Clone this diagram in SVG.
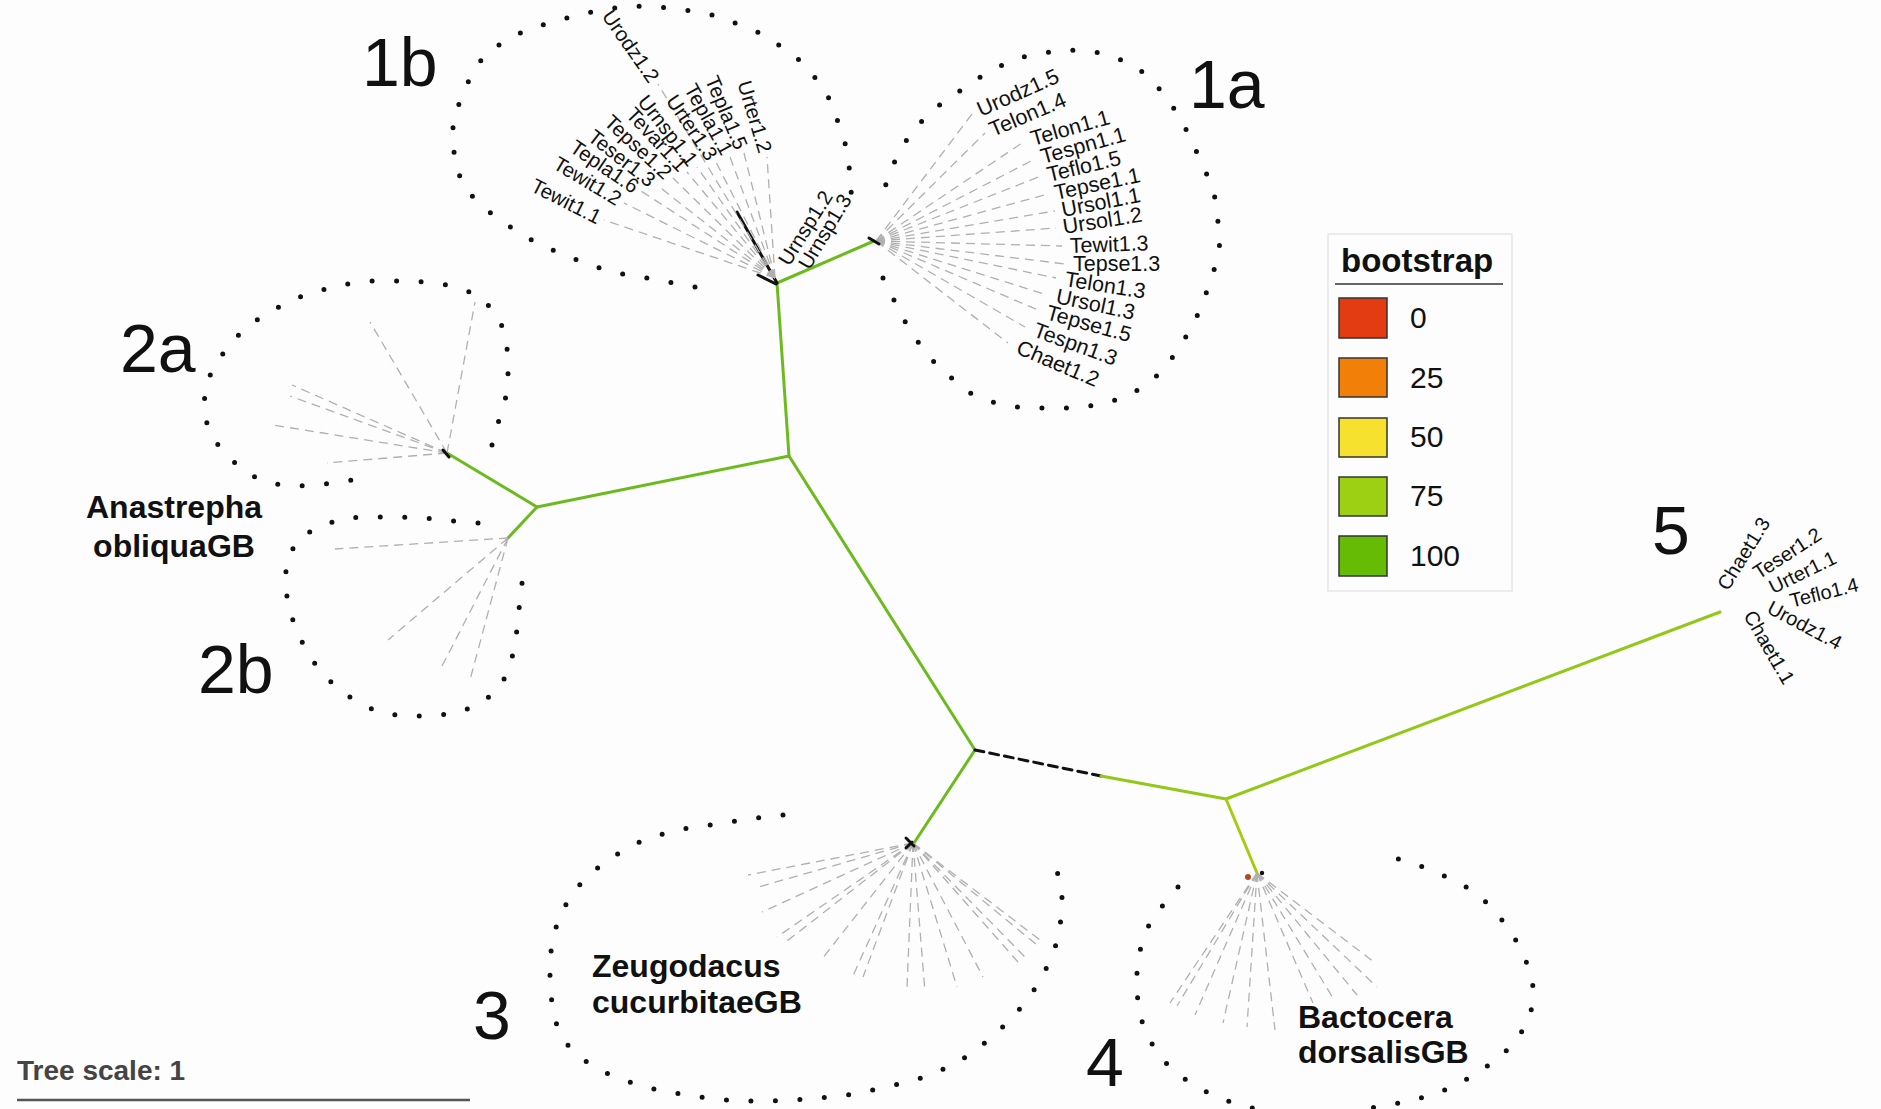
<svg xmlns="http://www.w3.org/2000/svg" width="1881" height="1109" viewBox="0 0 1881 1109">
<defs>
<style>
.bg{fill:#fdfdfd}
.dots{fill:none;stroke:#111;stroke-width:5;stroke-linecap:round;stroke-linejoin:round;stroke-dasharray:0 24.5}
.leaf{fill:none;stroke:#b0b0b0;stroke-width:1.3;stroke-dasharray:9 6}
.br{fill:none;stroke-width:3;stroke-linecap:round}
.b100{stroke:#6cba1e}
.b75{stroke:#93c718}
.b75y{stroke:#a6cc12}
.unk{stroke:#111}
.txt{font-family:"Liberation Sans",Arial,sans-serif;fill:#111}
.l1a{font-size:21.5px}
.l1b{font-size:20.5px;dominant-baseline:central}
.l5{font-size:20px;dominant-baseline:central}
.big{font-size:68px}
.sp{font-family:"Liberation Sans",Arial,sans-serif;font-weight:bold;font-size:32px;fill:#111}
.sw{stroke:#333;stroke-width:1.5}
.lg{font-family:"Liberation Sans",Arial,sans-serif;font-size:30px;fill:#111}
</style>
</defs>
<rect class="bg" x="0" y="0" width="1881" height="1109"/>

<!-- tree branches, coloured by bootstrap support -->
<g id="connectors">
  <line class="br b100" x1="777" y1="283" x2="874" y2="241"/>
  <line class="br b100" x1="777" y1="283" x2="789" y2="456"/>
  <line class="br b100" x1="789" y1="456" x2="537" y2="507"/>
  <line class="br b100" x1="537" y1="507" x2="447" y2="453"/>
  <line class="br b100" x1="537" y1="507" x2="508" y2="538"/>
  <line class="br b100" x1="789" y1="456" x2="975" y2="750"/>
  <line class="br b100" x1="975" y1="750" x2="914" y2="843"/>
  <line class="br unk" x1="975" y1="750" x2="1101" y2="776" stroke-dasharray="9 6" stroke-linecap="butt"/>
  <line class="br b75" x1="1101" y1="776" x2="1226" y2="799"/>
  <line class="br b75" x1="1226" y1="799" x2="1720" y2="612"/>
  <line class="br b75y" x1="1226" y1="799" x2="1257" y2="873"/>
  <line class="br unk" x1="777" y1="283" x2="737" y2="212" stroke-width="2.5"/>
  <line class="br unk" x1="758" y1="275" x2="776" y2="284" stroke-width="2.5"/>
</g>

<!-- clade 1b -->
<g id="clade-1b">
  <polyline class="dots" points="695,287 668,282 642,277 617,273 590,265 565,255 540,245 518,232 497,218 478,203 463,185 455,163 453,140 453,118 462,97 472,73 485,55 503,42 528,29 553,22 578,15 605,9 632,6 658,7 685,10 712,15 735,23 760,33 782,47 802,62 817,80 830,100 838,122 845,143 849,165 851,188 852,212"/>
  <g class="leaf">
    <line x1="775" y1="278" x2="658" y2="84"/>
    <line x1="775" y1="278" x2="767" y2="157"/>
    <line x1="775" y1="278" x2="744" y2="153"/>
    <line x1="775" y1="278" x2="730" y2="157"/>
    <line x1="775" y1="278" x2="716" y2="162"/>
    <line x1="775" y1="278" x2="697" y2="167"/>
    <line x1="775" y1="278" x2="687" y2="172"/>
    <line x1="775" y1="278" x2="673" y2="178"/>
    <line x1="775" y1="278" x2="657" y2="185"/>
    <line x1="775" y1="278" x2="641" y2="191"/>
    <line x1="775" y1="278" x2="624" y2="203"/>
    <line x1="775" y1="278" x2="604" y2="220"/>
  </g>
  <g class="txt l1b" text-anchor="end">
    <text transform="translate(655,80) rotate(55)">Urodz1.2</text>
    <text transform="translate(766,152) rotate(73)">Urter1.2</text>
    <text transform="translate(742,148) rotate(67)">Tepla1.5</text>
    <text transform="translate(728,153) rotate(61)">Tepla1.1</text>
    <text transform="translate(713,158) rotate(56)">Urter1.3</text>
    <text transform="translate(694,163) rotate(52)">Urnsp1.1</text>
    <text transform="translate(684,168) rotate(47)">Tevar1.1</text>
    <text transform="translate(669,175) rotate(43)">Tepse1.2</text>
    <text transform="translate(653,182) rotate(38)">Teser1.3</text>
    <text transform="translate(637,188) rotate(34)">Tepla1.6</text>
    <text transform="translate(620,200) rotate(31)">Tewit1.2</text>
    <text transform="translate(600,218) rotate(27)">Tewit1.1</text>
  </g>
  <g class="txt l1b">
    <text transform="translate(783,263) rotate(-58)">Urnsp1.2</text>
    <text transform="translate(803,267) rotate(-59)">Urnsp1.3</text>
  </g>
  <text class="txt big" x="362" y="86">1b</text>
</g>

<!-- clade 1a -->
<g id="clade-1a">
  <polyline class="dots" points="883,278 893,298 903,318 915,338 930,358 948,375 968,392 992,402 1017,407 1045,408 1072,408 1098,405 1123,398 1147,385 1163,370 1178,350 1190,330 1200,310 1208,288 1215,267 1220,243 1218,222 1215,198 1208,177 1198,155 1188,133 1177,113 1163,93 1147,75 1127,62 1102,53 1077,50 1050,52 1023,57 998,67 977,79 957,93 935,108 918,125 903,145 893,165 885,187 882,208"/>
  <g class="leaf">
    <line x1="876" y1="241" x2="972" y2="114"/>
    <line x1="876" y1="241" x2="985" y2="133"/>
    <line x1="876" y1="241" x2="1025" y2="141"/>
    <line x1="876" y1="241" x2="1035" y2="159"/>
    <line x1="876" y1="241" x2="1041" y2="176"/>
    <line x1="876" y1="241" x2="1048" y2="194"/>
    <line x1="876" y1="241" x2="1055" y2="211"/>
    <line x1="876" y1="241" x2="1056" y2="228"/>
    <line x1="876" y1="241" x2="1062" y2="246"/>
    <line x1="876" y1="241" x2="1065" y2="264"/>
    <line x1="876" y1="241" x2="1056" y2="278"/>
    <line x1="876" y1="241" x2="1047" y2="295"/>
    <line x1="876" y1="241" x2="1038" y2="310"/>
    <line x1="876" y1="241" x2="1025" y2="327"/>
    <line x1="876" y1="241" x2="1008" y2="343"/>
  </g>
  <g class="txt l1a">
    <text transform="translate(981,117) rotate(-24)">Urodz1.5</text>
    <text transform="translate(993,137) rotate(-23)">Telon1.4</text>
    <text transform="translate(1033,146) rotate(-16)">Telon1.1</text>
    <text transform="translate(1043,164) rotate(-15.5)">Tespn1.1</text>
    <text transform="translate(1049,182) rotate(-13.5)">Teflo1.5</text>
    <text transform="translate(1056,200) rotate(-12)">Tepse1.1</text>
    <text transform="translate(1063,217) rotate(-11)">Ursol1.1</text>
    <text transform="translate(1064,234) rotate(-9)">Ursol1.2</text>
    <text transform="translate(1070,253) rotate(-2)">Tewit1.3</text>
    <text transform="translate(1073,271) rotate(0)">Tepse1.3</text>
    <text transform="translate(1064,286) rotate(9)">Telon1.3</text>
    <text transform="translate(1055,303) rotate(12)">Ursol1.3</text>
    <text transform="translate(1045,319) rotate(15.5)">Tepse1.5</text>
    <text transform="translate(1032,336) rotate(20)">Tespn1.3</text>
    <text transform="translate(1015,353) rotate(23)">Chaet1.2</text>
  </g>
  <line class="br unk" x1="869" y1="238" x2="879" y2="244" stroke-width="2.5"/>
  <text class="txt big" x="1189" y="108">1a</text>
</g>

<!-- clade 2a -->
<g id="clade-2a">
  <polyline class="dots" points="492,445 498,423 505,402 508,378 508,356 505,333 496,313 478,295 453,286 427,282 400,281 373,281 347,284 322,290 297,298 273,310 252,323 233,340 219,359 208,379 204,402 207,424 218,445 234,462 255,477 280,485 307,486 333,483 360,479"/>
  <g class="leaf">
    <line x1="447" y1="453" x2="370" y2="322"/>
    <line x1="447" y1="453" x2="475" y2="302"/>
    <line x1="447" y1="453" x2="292" y2="385"/>
    <line x1="447" y1="453" x2="290" y2="396"/>
    <line x1="447" y1="453" x2="273" y2="425"/>
    <line x1="447" y1="453" x2="327" y2="463"/>
  </g>
  <line class="br unk" x1="443" y1="450" x2="449" y2="457" stroke-width="2.5"/>
  <text class="txt big" x="120" y="372">2a</text>
</g>

<!-- clade 2b -->
<g id="clade-2b">
  <polyline class="dots" points="478,523 452,521 425,518 398,517 372,517 345,518 320,526 298,539 287,560 285,582 288,604 295,627 305,648 317,667 334,685 354,700 378,712 403,716 430,716 457,713 482,703 500,687 510,667 515,644 518,622 520,598 523,576"/>
  <g class="leaf">
    <line x1="508" y1="538" x2="335" y2="549"/>
    <line x1="508" y1="538" x2="388" y2="640"/>
    <line x1="508" y1="538" x2="440" y2="670"/>
    <line x1="508" y1="538" x2="470" y2="680"/>
  </g>
  <text class="txt big" x="198" y="693">2b</text>
</g>

<!-- Anastrepha reference -->
<g id="label-anastrepha">
  <text class="sp" x="174" y="518" text-anchor="middle">Anastrepha</text>
  <text class="sp" x="174" y="557" text-anchor="middle">obliquaGB</text>
</g>

<!-- clade 3 -->
<g id="clade-3">
  <polyline class="dots" points="783,815 757,818 730,822 703,826 677,830 652,837 628,847 607,861 587,876 572,894 560,915 553,937 550,959 550,982 552,1004 557,1026 569,1047 588,1063 610,1075 635,1084 662,1091 687,1095 713,1099 740,1101 767,1101 794,1100 820,1098 847,1095 873,1090 899,1084 925,1077 948,1067 971,1054 991,1038 1008,1022 1025,1003 1038,984 1049,963 1057,942 1061,919 1062,897 1058,874 1047,855"/>
  <g class="leaf">
    <line x1="913" y1="843" x2="748" y2="875"/>
    <line x1="913" y1="843" x2="755" y2="888"/>
    <line x1="913" y1="843" x2="762" y2="912"/>
    <line x1="913" y1="843" x2="777" y2="937"/>
    <line x1="913" y1="843" x2="787" y2="941"/>
    <line x1="913" y1="843" x2="822" y2="959"/>
    <line x1="913" y1="843" x2="852" y2="978"/>
    <line x1="913" y1="843" x2="863" y2="977"/>
    <line x1="913" y1="843" x2="907" y2="987"/>
    <line x1="913" y1="843" x2="925" y2="992"/>
    <line x1="913" y1="843" x2="957" y2="987"/>
    <line x1="913" y1="843" x2="983" y2="977"/>
    <line x1="913" y1="843" x2="1018" y2="962"/>
    <line x1="913" y1="843" x2="1025" y2="957"/>
    <line x1="913" y1="843" x2="1037" y2="945"/>
    <line x1="913" y1="843" x2="1040" y2="940"/>
  </g>
  <path class="br unk" d="M906,838 L914,846 M906,848 L912,842" stroke-width="2.5"/>
  <text class="txt big" x="473" y="1039">3</text>
  <text class="sp" x="592" y="977">Zeugodacus</text>
  <text class="sp" x="592" y="1013">cucurbitaeGB</text>
</g>

<!-- clade 4 -->
<g id="clade-4">
  <polyline class="dots" points="1178,887 1163,905 1149,925 1141,946 1137,968 1137,991 1139,1013 1147,1035 1159,1056 1176,1073 1197,1087 1219,1098 1244,1106 1270,1112 1297,1115 1325,1115 1352,1112 1380,1106 1406,1102 1431,1095 1455,1086 1477,1073 1498,1059 1515,1042 1528,1022 1534,999 1532,977 1524,956 1513,935 1499,916 1482,898 1462,884 1438,873 1413,863 1387,856"/>
  <g class="leaf">
    <line x1="1257" y1="873" x2="1170" y2="1003"/>
    <line x1="1257" y1="873" x2="1177" y2="1006"/>
    <line x1="1257" y1="873" x2="1195" y2="1015"/>
    <line x1="1257" y1="873" x2="1223" y2="1023"/>
    <line x1="1257" y1="873" x2="1247" y2="1027"/>
    <line x1="1257" y1="873" x2="1275" y2="1030"/>
    <line x1="1257" y1="873" x2="1313" y2="1003"/>
    <line x1="1257" y1="873" x2="1333" y2="998"/>
    <line x1="1257" y1="873" x2="1357" y2="995"/>
    <line x1="1257" y1="873" x2="1377" y2="987"/>
    <line x1="1257" y1="873" x2="1374" y2="962"/>
  </g>
  <circle cx="1248" cy="877" r="3" fill="#b04a20"/>
  <circle cx="1262" cy="873" r="2.2" fill="#111"/>
  <text class="txt big" x="1086" y="1086">4</text>
  <text class="sp" x="1298" y="1028">Bactocera</text>
  <text class="sp" x="1298" y="1063">dorsalisGB</text>
</g>

<!-- clade 5 -->
<g id="clade-5">
  <g class="txt l5">
    <text transform="translate(1722,588) rotate(-58)">Chaet1.3</text>
    <text transform="translate(1755,574) rotate(-33)">Teser1.2</text>
    <text transform="translate(1770,588) rotate(-26)">Urter1.1</text>
    <text transform="translate(1790,601) rotate(-14)">Teflo1.4</text>
    <text transform="translate(1769,606) rotate(28)">Urodz1.4</text>
    <text transform="translate(1749,612) rotate(60)">Chaet1.1</text>
  </g>
  <text class="txt big" x="1652" y="554">5</text>
</g>

<!-- bootstrap legend -->
<g id="legend">
  <rect x="1328" y="234" width="184" height="357" fill="#fdfdfd" stroke="#e6e6e6" stroke-width="1.5"/>
  <text x="1341" y="272" font-family="Liberation Sans, Arial, sans-serif" font-weight="bold" font-size="33" fill="#111">bootstrap</text>
  <line x1="1335" y1="284" x2="1503" y2="284" stroke="#666" stroke-width="2"/>
  <rect class="sw" x="1339" y="298" width="48" height="40" fill="#e33c12"/>
  <rect class="sw" x="1339" y="358" width="48" height="39" fill="#f28008"/>
  <rect class="sw" x="1339" y="418" width="48" height="39" fill="#f6e22e"/>
  <rect class="sw" x="1339" y="477" width="48" height="39" fill="#9dd012"/>
  <rect class="sw" x="1339" y="536" width="48" height="40" fill="#66bb05"/>
  <text class="lg" x="1410" y="328">0</text>
  <text class="lg" x="1410" y="388">25</text>
  <text class="lg" x="1410" y="447">50</text>
  <text class="lg" x="1410" y="506">75</text>
  <text class="lg" x="1410" y="566">100</text>
</g>

<!-- scale bar -->
<g id="scale">
  <text x="17" y="1080" font-family="Liberation Sans, Arial, sans-serif" font-weight="bold" font-size="28" fill="#444">Tree scale: 1</text>
  <line x1="17" y1="1100" x2="470" y2="1100" stroke="#555" stroke-width="2.5"/>
</g>
</svg>
